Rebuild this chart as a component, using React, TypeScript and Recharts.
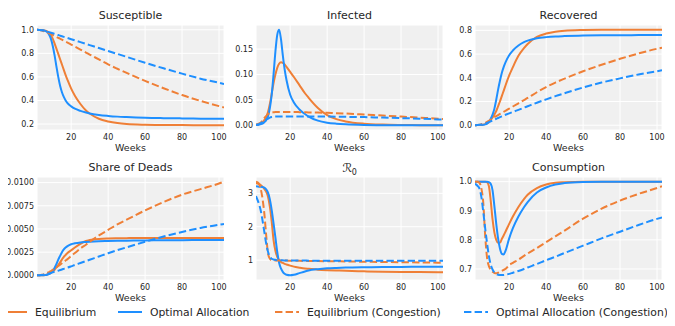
import React from 'react';
import { LineChart, Line, XAxis, YAxis, CartesianGrid, Label } from 'recharts';

const weeks = [1.5, 3, 4, 5, 6, 7, 8, 9, 10, 11, 12, 13, 14, 15, 16, 17, 18, 20, 22, 25, 28, 30, 35, 40, 45, 50, 60, 70, 80, 90, 100, 102.7];
const xTicks = [20, 40, 60, 80, 100];

// Susceptible
const susEq = [1.0, 0.999, 0.998, 0.996, 0.992, 0.986, 0.975, 0.955, 0.925, 0.885, 0.84, 0.795, 0.75, 0.705, 0.66, 0.615, 0.575, 0.5, 0.44, 0.37, 0.315, 0.29, 0.245, 0.222, 0.208, 0.2, 0.194, 0.192, 0.191, 0.19, 0.19, 0.19];
const susOpt = [1.0, 0.999, 0.998, 0.995, 0.99, 0.98, 0.96, 0.925, 0.865, 0.785, 0.69, 0.6, 0.525, 0.47, 0.43, 0.4, 0.378, 0.35, 0.33, 0.312, 0.298, 0.29, 0.277, 0.269, 0.263, 0.259, 0.253, 0.25, 0.248, 0.246, 0.245, 0.245];
const susEqC = [1.0, 0.997, 0.994, 0.99, 0.985, 0.978, 0.971, 0.964, 0.956, 0.948, 0.94, 0.932, 0.924, 0.916, 0.907, 0.899, 0.891, 0.874, 0.857, 0.832, 0.807, 0.79, 0.748, 0.706, 0.669, 0.634, 0.566, 0.504, 0.446, 0.396, 0.352, 0.341];
const susOptC = [1.0, 0.998, 0.996, 0.993, 0.989, 0.985, 0.98, 0.975, 0.97, 0.965, 0.96, 0.955, 0.95, 0.945, 0.94, 0.935, 0.93, 0.92, 0.91, 0.895, 0.88, 0.87, 0.845, 0.82, 0.795, 0.77, 0.72, 0.673, 0.628, 0.585, 0.55, 0.54];

// Infected
const infEq = [0.001, 0.002, 0.004, 0.006, 0.01, 0.016, 0.026, 0.042, 0.062, 0.083, 0.1, 0.113, 0.121, 0.124, 0.123, 0.12, 0.115, 0.105, 0.095, 0.079, 0.063, 0.054, 0.034, 0.02, 0.012, 0.0075, 0.003, 0.0012, 0.0005, 0.0002, 0.0001, 0.0001];
const infOpt = [0.0005, 0.001, 0.002, 0.003, 0.006, 0.01, 0.018, 0.034, 0.06, 0.1, 0.145, 0.178, 0.188, 0.17, 0.138, 0.11, 0.089, 0.06, 0.045, 0.031, 0.022, 0.017, 0.009, 0.005, 0.003, 0.0018, 0.0006, 0.0002, 0.0001, 0, 0, 0];
const infEqC = [0.001, 0.003, 0.005, 0.009, 0.014, 0.018, 0.022, 0.024, 0.025, 0.0255, 0.026, 0.026, 0.026, 0.026, 0.026, 0.026, 0.026, 0.026, 0.026, 0.0258, 0.0255, 0.0253, 0.025, 0.0245, 0.0238, 0.023, 0.021, 0.019, 0.017, 0.015, 0.013, 0.012];
const infOptC = [0.0008, 0.002, 0.004, 0.006, 0.0085, 0.011, 0.013, 0.015, 0.016, 0.0165, 0.017, 0.017, 0.017, 0.017, 0.017, 0.017, 0.017, 0.017, 0.017, 0.017, 0.017, 0.017, 0.017, 0.017, 0.0168, 0.0165, 0.016, 0.015, 0.014, 0.013, 0.0115, 0.011];

// Recovered
const recEq = [0, 0.001, 0.002, 0.003, 0.005, 0.009, 0.015, 0.026, 0.043, 0.065, 0.09, 0.12, 0.16, 0.2, 0.245, 0.29, 0.335, 0.42, 0.49, 0.585, 0.65, 0.685, 0.745, 0.773, 0.789, 0.797, 0.803, 0.805, 0.805, 0.805, 0.805, 0.805];
const recOpt = [0, 0.001, 0.0015, 0.002, 0.004, 0.007, 0.013, 0.03, 0.055, 0.09, 0.14, 0.215, 0.3, 0.375, 0.44, 0.49, 0.53, 0.59, 0.63, 0.672, 0.7, 0.713, 0.733, 0.743, 0.749, 0.752, 0.756, 0.758, 0.759, 0.76, 0.76, 0.76];
const recEqC = [0, 0.002, 0.004, 0.008, 0.013, 0.02, 0.028, 0.038, 0.048, 0.058, 0.068, 0.077, 0.086, 0.095, 0.104, 0.113, 0.122, 0.14, 0.158, 0.185, 0.212, 0.23, 0.278, 0.322, 0.36, 0.393, 0.455, 0.51, 0.56, 0.605, 0.645, 0.654];
const recOptC = [0, 0.002, 0.004, 0.006, 0.009, 0.014, 0.019, 0.025, 0.033, 0.04, 0.047, 0.054, 0.061, 0.068, 0.075, 0.082, 0.088, 0.1, 0.112, 0.13, 0.148, 0.16, 0.19, 0.218, 0.245, 0.27, 0.318, 0.36, 0.395, 0.428, 0.455, 0.463];

// Share of Deads
const deadEq = [0, 0, 0.00001, 0.00002, 0.00004, 0.00008, 0.00015, 0.00025, 0.0004, 0.0006, 0.00085, 0.0011, 0.0014, 0.0017, 0.002, 0.0022, 0.0024, 0.0027, 0.003, 0.0034, 0.0037, 0.0038, 0.00393, 0.00398, 0.004, 0.00401, 0.00402, 0.00402, 0.00402, 0.00402, 0.00402, 0.00402];
const deadOpt = [0, 0, 0.00001, 0.00002, 0.00004, 0.00007, 0.00013, 0.00025, 0.00045, 0.0008, 0.0012, 0.0017, 0.0021, 0.0025, 0.0028, 0.003, 0.00315, 0.00335, 0.00345, 0.00355, 0.0036, 0.00363, 0.00368, 0.0037, 0.00372, 0.00374, 0.00376, 0.00378, 0.00379, 0.0038, 0.0038, 0.0038];
const deadEqC = [0, 0.00002, 0.00005, 0.0001, 0.00017, 0.00025, 0.00035, 0.00045, 0.00058, 0.0007, 0.00085, 0.001, 0.00115, 0.0013, 0.00145, 0.0016, 0.00175, 0.0021, 0.0024, 0.0029, 0.0033, 0.0036, 0.0043, 0.0049, 0.0055, 0.006, 0.007, 0.0079, 0.0087, 0.0093, 0.0099, 0.0101];
const deadOptC = [0, 0.00002, 0.00004, 0.00006, 0.0001, 0.00015, 0.0002, 0.00026, 0.00032, 0.00038, 0.00044, 0.0005, 0.00057, 0.00063, 0.0007, 0.00077, 0.00083, 0.00097, 0.00112, 0.00133, 0.00154, 0.00168, 0.00203, 0.00238, 0.00271, 0.00302, 0.00362, 0.00418, 0.00468, 0.00511, 0.00545, 0.00554];

// R0
const r0Eq = [3.3, 3.28, 3.25, 3.2, 3.13, 3.05, 2.9, 2.6, 2.15, 1.6, 1.28, 1.1, 1.0, 0.945, 0.915, 0.89, 0.87, 0.835, 0.805, 0.775, 0.75, 0.74, 0.715, 0.7, 0.69, 0.68, 0.665, 0.655, 0.648, 0.643, 0.64, 0.64];
const r0Opt = [3.21, 3.2, 3.2, 3.19, 3.17, 3.12, 3.02, 2.82, 2.5, 2.1, 1.68, 1.25, 0.92, 0.75, 0.65, 0.59, 0.56, 0.545, 0.56, 0.61, 0.66, 0.69, 0.73, 0.755, 0.768, 0.777, 0.787, 0.793, 0.797, 0.8, 0.8, 0.8];
const r0EqC = [3.35, 3.3, 3.15, 2.85, 2.4, 1.75, 1.2, 1.04, 1.0, 0.995, 0.992, 0.99, 0.99, 0.99, 0.988, 0.987, 0.986, 0.983, 0.981, 0.978, 0.976, 0.975, 0.972, 0.969, 0.965, 0.961, 0.952, 0.944, 0.937, 0.931, 0.925, 0.923];
const r0OptC = [2.92, 2.7, 2.5, 2.2, 1.85, 1.5, 1.25, 1.1, 1.04, 1.02, 1.01, 1.0, 0.997, 0.995, 0.993, 0.992, 0.991, 0.99, 0.988, 0.987, 0.986, 0.985, 0.984, 0.983, 0.982, 0.982, 0.981, 0.98, 0.98, 0.98, 0.98, 0.98];

// Consumption
const conEq = [1.0, 1.0, 1.0, 1.0, 1.0, 1.0, 0.998, 0.985, 0.935, 0.87, 0.825, 0.8, 0.79, 0.79, 0.803, 0.815, 0.828, 0.855, 0.88, 0.913, 0.94, 0.955, 0.978, 0.99, 0.996, 0.998, 1.0, 1.0, 1.0, 1.0, 1.0, 1.0];
const conOpt = [1.0, 1.0, 1.0, 1.0, 1.0, 1.0, 1.0, 0.998, 0.993, 0.97, 0.915, 0.855, 0.805, 0.77, 0.752, 0.75, 0.762, 0.805, 0.84, 0.88, 0.912, 0.93, 0.963, 0.98, 0.99, 0.995, 0.999, 1.0, 1.0, 1.0, 1.0, 1.0];
const conEqC = [1.0, 1.0, 0.995, 0.975, 0.925, 0.815, 0.74, 0.71, 0.697, 0.69, 0.686, 0.685, 0.687, 0.69, 0.693, 0.697, 0.7, 0.713, 0.721, 0.732, 0.745, 0.753, 0.772, 0.792, 0.812, 0.832, 0.873, 0.907, 0.935, 0.958, 0.978, 0.984];
const conOptC = [0.993, 0.985, 0.975, 0.945, 0.895, 0.84, 0.79, 0.745, 0.715, 0.698, 0.688, 0.683, 0.68, 0.679, 0.679, 0.679, 0.68, 0.683, 0.687, 0.693, 0.7, 0.705, 0.717, 0.73, 0.742, 0.755, 0.78, 0.805, 0.828, 0.851, 0.872, 0.877];

const ORANGE = '#EF7F36';
const BLUE = '#1E8FFF';
const BG = '#F0F0F0';
const FONT = '"DejaVu Sans", sans-serif';
const TEXT = '#262626';
const DASH = '7.4 3.2';

const PW = 187;
const YW = 44;
const RM = 10;
const COLS = [37, 256, 475];
const ROWS = [{ top: 25, h: 105 }, { top: 177, h: 103 }];

type TickProps = { x?: number; y?: number; payload?: { value: number } };

function XTick({ x, y, payload }: TickProps) {
  return (
    <text x={x} y={(y ?? 0) + 9.5} textAnchor="middle" fontSize={8} fill={TEXT} fontFamily={FONT}>
      {payload ? String(payload.value) : ''}
    </text>
  );
}

type PanelProps = {
  col: number;
  row: number;
  title: React.ReactNode;
  a: number[];
  b: number[];
  c: number[];
  d: number[];
  domain: [number, number];
  ticks: number[];
  fmt: (v: number) => string;
};

function Panel({ col, row, title, a, b, c, d, domain, ticks, fmt }: PanelProps) {
  const data = weeks.map((w, i) => ({ w, eq: a[i], opt: b[i], ceq: c[i], copt: d[i] }));
  const left = COLS[col];
  const r = ROWS[row];
  const xH = 30;
  return (
    <>
      <div style={{ position: 'absolute', left: left - YW, top: r.top }}>
        <LineChart width={YW + PW + RM} height={r.h + xH} data={data} margin={{ top: 0, right: RM, bottom: 0, left: 0 }}>
          <CartesianGrid fill={BG} stroke="#FFFFFF" strokeWidth={1} />
          <XAxis
            dataKey="w"
            type="number"
            domain={[1.5, 102.7]}
            ticks={xTicks}
            allowDataOverflow
            axisLine={false}
            tickLine={false}
            tickSize={0}
            tickMargin={0}
            minTickGap={0}
            height={xH}
            tick={<XTick />}
            interval={0}
          >
            <Label value="Weeks" position="insideBottom" offset={9} style={{ fontSize: 9.5, fill: TEXT, fontFamily: FONT }} />
          </XAxis>
          <YAxis
            type="number"
            domain={domain}
            ticks={ticks}
            allowDataOverflow
            axisLine={false}
            tickLine={false}
            tickSize={0}
            tickMargin={3}
            width={YW}
            tickFormatter={fmt}
            tick={{ fontSize: 8, fill: TEXT, fontFamily: FONT }}
            interval={0}
          />
          <Line type="monotone" dataKey="eq" stroke={ORANGE} strokeWidth={2} dot={false} isAnimationActive={false} />
          <Line type="monotone" dataKey="opt" stroke={BLUE} strokeWidth={2} dot={false} isAnimationActive={false} />
          <Line type="monotone" dataKey="ceq" stroke={ORANGE} strokeWidth={2} strokeDasharray={DASH} dot={false} isAnimationActive={false} />
          <Line type="monotone" dataKey="copt" stroke={BLUE} strokeWidth={2} strokeDasharray={DASH} dot={false} isAnimationActive={false} />
        </LineChart>
      </div>
      <div style={{ position: 'absolute', left, width: PW, top: r.top - 16, height: 14, lineHeight: '14px', textAlign: 'center', fontSize: 11, color: TEXT, fontFamily: FONT }}>
        {title}
      </div>
    </>
  );
}

const legendItems = [
  { label: 'Equilibrium', color: ORANGE, dash: false, x: 3 },
  { label: 'Optimal Allocation', color: BLUE, dash: false, x: 118 },
  { label: 'Equilibrium (Congestion)', color: ORANGE, dash: true, x: 275 },
  { label: 'Optimal Allocation (Congestion)', color: BLUE, dash: true, x: 464 },
];

const f1 = (v: number) => v.toFixed(1);
const f2 = (v: number) => v.toFixed(2);
const f4 = (v: number) => v.toFixed(4);
const f0 = (v: number) => String(v);

export default function App() {
  return (
    <div style={{ position: 'relative', width: 675, height: 326, margin: -8, background: '#FFFFFF', overflow: 'hidden' }}>
      <Panel col={0} row={0} title="Susceptible" a={susEq} b={susOpt} c={susEqC} d={susOptC} domain={[0.1495, 1.0405]} ticks={[0.2, 0.4, 0.6, 0.8, 1.0]} fmt={f1} />
      <Panel col={1} row={0} title="Infected" a={infEq} b={infOpt} c={infEqC} d={infOptC} domain={[-0.0094, 0.1974]} ticks={[0, 0.05, 0.1, 0.15]} fmt={f2} />
      <Panel col={2} row={0} title="Recovered" a={recEq} b={recOpt} c={recEqC} d={recOptC} domain={[-0.04025, 0.84525]} ticks={[0, 0.2, 0.4, 0.6, 0.8]} fmt={f1} />
      <Panel col={0} row={1} title="Share of Deads" a={deadEq} b={deadOpt} c={deadEqC} d={deadOptC} domain={[-0.000505, 0.010605]} ticks={[0, 0.0025, 0.005, 0.0075, 0.01]} fmt={f4} />
      <Panel
        col={1}
        row={1}
        title={<span style={{ fontStyle: 'italic', fontSize: 12 }}>ℛ<sub style={{ fontSize: 8, fontStyle: 'normal' }}>0</sub></span>}
        a={r0Eq}
        b={r0Opt}
        c={r0EqC}
        d={r0OptC}
        domain={[0.405, 3.49]}
        ticks={[1, 2, 3]}
        fmt={f0}
      />
      <Panel col={2} row={1} title="Consumption" a={conEq} b={conOpt} c={conEqC} d={conOptC} domain={[0.662, 1.016]} ticks={[0.7, 0.8, 0.9, 1.0]} fmt={f1} />
      {legendItems.map((it) => (
        <div key={it.label} style={{ position: 'absolute', left: it.x, top: 305, height: 14, display: 'flex', alignItems: 'center', fontFamily: FONT, fontSize: 10.8, color: TEXT, whiteSpace: 'nowrap' }}>
          <svg width={24} height={4} style={{ marginRight: 8, display: 'block' }}>
            <line x1={0} y1={2} x2={24} y2={2} stroke={it.color} strokeWidth={2} strokeDasharray={it.dash ? DASH : undefined} />
          </svg>
          <span>{it.label}</span>
        </div>
      ))}
    </div>
  );
}
